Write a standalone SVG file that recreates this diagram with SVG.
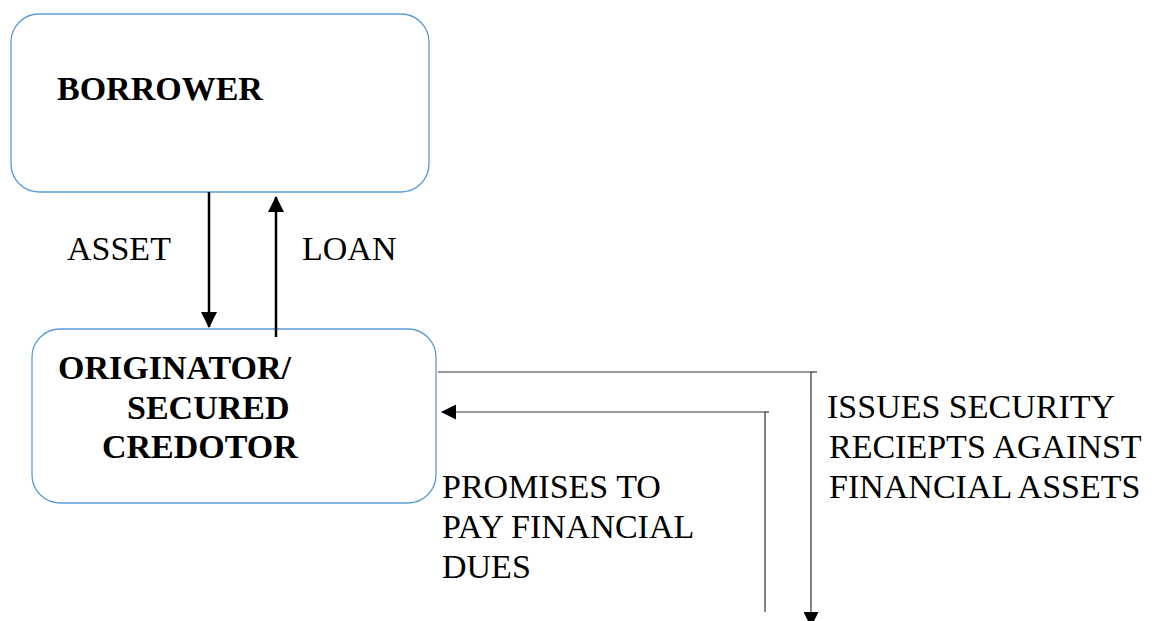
<svg xmlns="http://www.w3.org/2000/svg" width="1160" height="621" viewBox="0 0 1160 621">
<style>
.box{fill:#fff;stroke:#5b9bd5;stroke-width:1.3}
.b{font-family:"Times New Roman","Liberation Serif",Tinos,"DejaVu Serif",serif;font-weight:bold;font-size:34px;fill:#000}
.t{font-family:"Times New Roman","Liberation Serif",Tinos,"DejaVu Serif",serif;font-size:34px;fill:#000}
.thick{stroke:#000;stroke-width:2.5;fill:none}
.thin{stroke:#333;stroke-width:1.2;fill:none}
</style>
<defs>
<marker id="ah" markerWidth="16" markerHeight="16" refX="15" refY="8" orient="auto" markerUnits="userSpaceOnUse"><path d="M0,0 L16,8 L0,16 Z" fill="#000"/></marker>
<marker id="ah2" markerWidth="15" markerHeight="15" refX="14" refY="7.5" orient="auto" markerUnits="userSpaceOnUse"><path d="M0,0 L15,7.5 L0,15 Z" fill="#000"/></marker>
</defs>
<rect width="1160" height="621" fill="#fff"/>
<g id="borrower">
<rect class="box" x="11" y="14" width="418" height="178" rx="28"/>
<text class="b" x="57" y="100">BORROWER</text>
</g>
<g id="originator">
<rect class="box" x="32" y="329" width="404" height="174" rx="28"/>
<text class="b" x="58" y="379">ORIGINATOR/</text>
<text class="b" x="127" y="419">SECURED</text>
<text class="b" x="102" y="458">CREDOTOR</text>
</g>
<g id="connectors">
<line class="thick" x1="209" y1="192" x2="209" y2="327" marker-end="url(#ah)"/>
<line class="thick" x1="276" y1="337" x2="276" y2="197" marker-end="url(#ah)"/>
<polyline class="thin" points="438,372 811,372 811,626" marker-end="url(#ah2)"/>
<polyline class="thin" points="765,612 765,412 442,412" marker-end="url(#ah2)"/>
<line class="thin" x1="765" y1="412" x2="769" y2="412"/>
<line class="thin" x1="811" y1="372" x2="817" y2="372"/>
</g>
<g id="labels">
<text class="t" x="67" y="260">ASSET</text>
<text class="t" x="302" y="260">LOAN</text>
<text class="t" x="442" y="498">PROMISES TO</text>
<text class="t" x="442" y="538">PAY FINANCIAL</text>
<text class="t" x="442" y="578">DUES</text>
<text class="t" x="827" y="418">ISSUES SECURITY</text>
<text class="t" x="829" y="458">RECIEPTS AGAINST</text>
<text class="t" x="829" y="498">FINANCIAL ASSETS</text>
</g>
</svg>
